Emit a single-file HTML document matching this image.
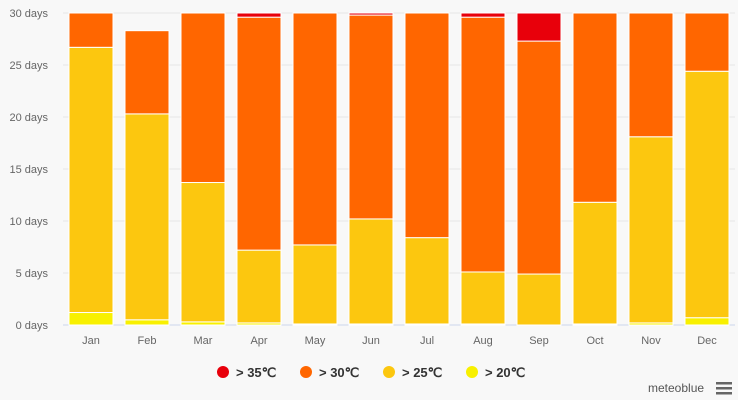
<!DOCTYPE html>
<html><head><meta charset="utf-8"><style>
body{margin:0;background:#f8f8f8;font-family:"Liberation Sans",sans-serif;}
svg{display:block}
</style></head><body>
<svg id="c" width="738" height="400" xmlns="http://www.w3.org/2000/svg">
<rect width="738" height="400" fill="#f8f8f8"/>
<g id="grid"></g><g id="bars"></g><g id="xl"></g>
<g font-size="13" font-weight="bold" fill="#333">
<g><circle cx="223" cy="372" r="6" fill="#e8000b"/><text x="236" y="377">&gt; 35℃</text></g>
<g><circle cx="306" cy="372" r="6" fill="#ff6600"/><text x="319" y="377">&gt; 30℃</text></g>
<g><circle cx="389" cy="372" r="6" fill="#fcc70f"/><text x="402" y="377">&gt; 25℃</text></g>
<g><circle cx="472" cy="372" r="6" fill="#f8f000"/><text x="485" y="377">&gt; 20℃</text></g>
</g>
<text x="648" y="392" font-size="12" fill="#555">meteoblue</text>
<g fill="#666"><rect x="716" y="382" width="16" height="2.5"/><rect x="716" y="387" width="16" height="2.5"/><rect x="716" y="392" width="16" height="2.5"/></g>
</svg>
<script>
const categories=["Jan","Feb","Mar","Apr","May","Jun","Jul","Aug","Sep","Oct","Nov","Dec"];
const over20=[1.2,0.5,0.3,0.2,0.1,0.1,0.1,0.1,0.0,0.1,0.2,0.7];
const over25=[25.5,19.8,13.4,7.0,7.6,10.1,8.3,5.0,4.9,11.7,17.9,23.7];
const over30=[4.3,8.0,17.3,22.4,23.3,19.6,22.6,24.5,22.4,19.2,11.9,6.6];
const over35=[0,0,0,0.4,0,0.2,0,1.4,2.7,0,0,0];
const yTicks=[0,5,10,15,20,25,30];
const series=[[over20,"#f8f000","over-20"],[over25,"#fcc70f","over-25"],[over30,"#ff6600","over-30"],[over35,"#e8000b","over-35"]];
const NS="http://www.w3.org/2000/svg";
const x0=63,step=56,bw=44,yMax=30,yTop=13,yBot=325;
const y=v=>yBot-(Math.min(v,yMax)/yMax)*(yBot-yTop);
const g=document.getElementById("grid"),b=document.getElementById("bars"),xl=document.getElementById("xl");
function el(t,a,p){const e=document.createElementNS(NS,t);for(const k in a)e.setAttribute(k,a[k]);p.appendChild(e);return e;}
yTicks.forEach(t=>{
 const l=el("line",{x1:x0,x2:735,y1:y(t),y2:y(t),stroke:t===0?"#ccd6eb":"#e6e6e6","stroke-width":1},g);
 
 
 const tx=el("text",{x:48,y:y(t)+4,"text-anchor":"end","font-size":11,fill:"#666"},g);
 tx.textContent=t+" days";
 
 
});
categories.forEach((c,i)=>{
 const cx=x0+step*i+step/2;let base=0;
 series.forEach(([arr,col,nm])=>{
  const v=arr[i];if(v<=0){return;}
  const top=base+v;const yt=y(top),yb=y(base);
  if(yb-yt>0){const r=el("rect",{x:cx-bw/2,y:yt,width:bw,height:yb-yt,fill:col,stroke:"#fff","stroke-width":1},b);
  
  }
  base=top;
 });
 const t=el("text",{x:cx,y:344,"text-anchor":"middle","font-size":11,fill:"#666"},xl);
 t.textContent=c;
 
 
});
</script>
</body></html>
